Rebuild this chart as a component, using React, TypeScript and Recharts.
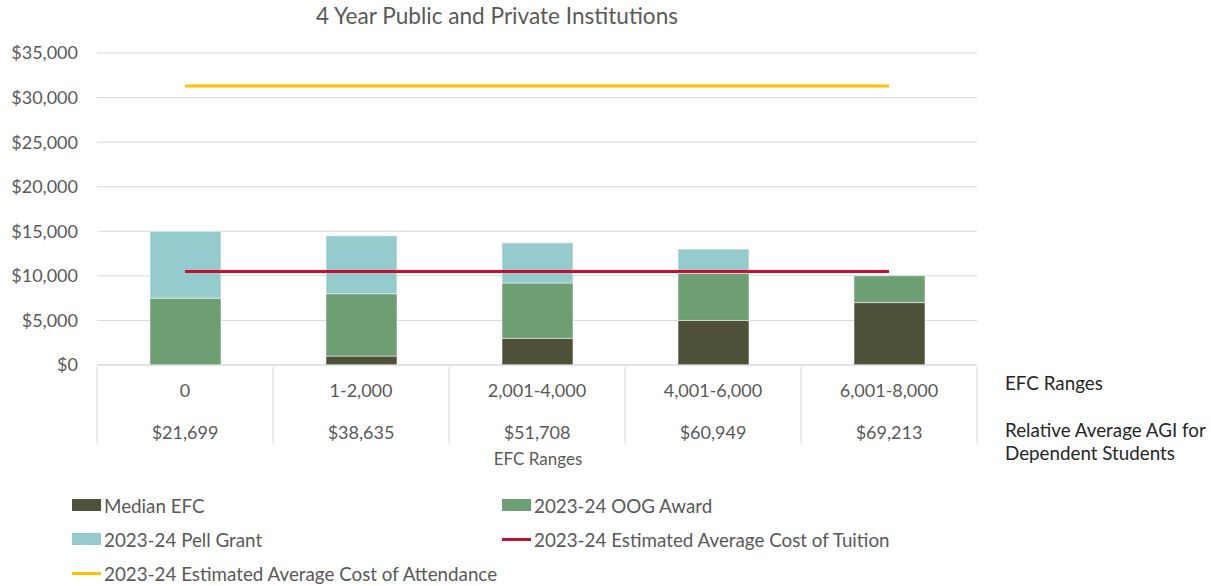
import { ComposedChart, Bar, Line, XAxis, YAxis, CartesianGrid } from 'recharts'

const categories = ['0', '1-2,000', '2,001-4,000', '4,001-6,000', '6,001-8,000']
const agiLabels = ['$21,699', '$38,635', '$51,708', '$60,949', '$69,213']
const medianEfc = [0, 1000, 3000, 5000, 7000]
const oogAward = [7500, 7000, 6200, 5300, 3000]
const pellGrant = [7500, 6500, 4500, 2700, 0]
const tuitionCost = [10500, 10500, 10500, 10500, 10500]
const attendanceCost = [31300, 31300, 31300, 31300, 31300]
const yTicks = [0, 5000, 10000, 15000, 20000, 25000, 30000, 35000]

const data = categories.map((name, i) => ({
  name,
  agi: agiLabels[i],
  median: medianEfc[i],
  oog: oogAward[i],
  pell: pellGrant[i],
  tuition: tuitionCost[i],
  attendance: attendanceCost[i]
}))

const FONT = 'Lato, "Open Sans", sans-serif'
const TEXT = '#595959'
const GRID = '#d9d9d9'

const COLORS = {
  median: '#4f5138',
  oog: '#6e9e74',
  pell: '#96cbcd',
  tuition: '#c8102e',
  attendance: '#ffc000'
}

const legendItems = [
  { label: 'Median EFC', color: COLORS.median, type: 'box' },
  { label: '2023-24 OOG Award', color: COLORS.oog, type: 'box' },
  { label: '2023-24 Pell Grant', color: COLORS.pell, type: 'box' },
  { label: '2023-24 Estimated Average Cost of Tuition', color: COLORS.tuition, type: 'line' },
  { label: '2023-24 Estimated Average Cost of Attendance', color: COLORS.attendance, type: 'line' }
]

const HALF_BAND = 88

function CategoryTick(props: any) {
  const { x, y, payload, index } = props
  const row = data[index]
  const top = y
  return (
    <g>
      <line x1={x - HALF_BAND} x2={x - HALF_BAND} y1={top} y2={top + 77} stroke={GRID} strokeWidth={1} />
      {index === categories.length - 1 && (
        <line x1={x + HALF_BAND} x2={x + HALF_BAND} y1={top} y2={top + 77} stroke={GRID} strokeWidth={1} />
      )}
      <text x={x} y={top + 25} textAnchor="middle" dominantBaseline="middle" fill={TEXT} fontSize={18} fontFamily={FONT}>
        {payload.value}
      </text>
      <text x={x} y={top + 67} textAnchor="middle" dominantBaseline="middle" fill={TEXT} fontSize={18} fontFamily={FONT}>
        {row ? row.agi : ''}
      </text>
    </g>
  )
}

export default function App() {
  return (
    <div style={{ position: 'absolute', left: 0, top: 0, width: 1211, height: 586, background: '#fff', fontFamily: FONT }}>
      <div style={{ position: 'absolute', left: 0, top: 2, width: 994, textAlign: 'center', fontSize: 22.6, color: TEXT }}>
        4 Year Public and Private Institutions
      </div>
      <ComposedChart
        width={1211}
        height={586}
        data={data}
        margin={{ top: 53, right: 234, bottom: 0, left: 0 }}
        barSize={71}
      >
        <CartesianGrid vertical={false} stroke={GRID} />
        <XAxis
          dataKey="name"
          height={221}
          tickLine={false}
          tickSize={0}
          axisLine={{ stroke: GRID }}
          tick={<CategoryTick />}
          interval={0}
        />
        <YAxis
          width={97}
          domain={[0, 35000]}
          ticks={yTicks}
          axisLine={false}
          tickLine={false}
          tickMargin={13}
          tickFormatter={(v: number) => `$${v.toLocaleString('en-US')}`}
          tick={{ fill: TEXT, fontSize: 18, fontFamily: FONT }}
        />
        <Bar dataKey="median" stackId="a" fill={COLORS.median} stroke="#ffffff" strokeOpacity={0.5} isAnimationActive={false} />
        <Bar dataKey="oog" stackId="a" fill={COLORS.oog} stroke="#ffffff" strokeOpacity={0.5} isAnimationActive={false} />
        <Bar dataKey="pell" stackId="a" fill={COLORS.pell} stroke="#ffffff" strokeOpacity={0.5} isAnimationActive={false} />
        <Line dataKey="tuition" stroke={COLORS.tuition} strokeWidth={3} dot={false} activeDot={false} isAnimationActive={false} />
        <Line dataKey="attendance" stroke={COLORS.attendance} strokeWidth={3} dot={false} activeDot={false} isAnimationActive={false} />
      </ComposedChart>
      <div style={{ position: 'absolute', left: 1005, top: 371, fontSize: 18.8, color: '#262626' }}>EFC Ranges</div>
      <div style={{ position: 'absolute', left: 1005, top: 418, fontSize: 18.8, lineHeight: '23px', color: '#262626' }}>
        Relative Average AGI for
        <br />
        Dependent Students
      </div>
      <div style={{ position: 'absolute', left: 0, top: 448, width: 1076, textAlign: 'center', fontSize: 17, color: TEXT }}>
        EFC Ranges
      </div>
      <div style={{ position: 'absolute', left: 72, top: 494, width: 1000, display: 'grid', gridTemplateColumns: '430px 500px', rowGap: 12 }}>
        {legendItems.map(item => (
          <div key={item.label} style={{ display: 'flex', alignItems: 'center', height: 22, fontSize: 18.8, color: TEXT }}>
            {item.type === 'box' ? (
              <span style={{ display: 'inline-block', width: 29, height: 12, background: item.color, marginRight: 3 }} />
            ) : (
              <span style={{ display: 'inline-block', width: 29, height: 3, background: item.color, marginRight: 3 }} />
            )}
            {item.label}
          </div>
        ))}
      </div>
    </div>
  )
}
